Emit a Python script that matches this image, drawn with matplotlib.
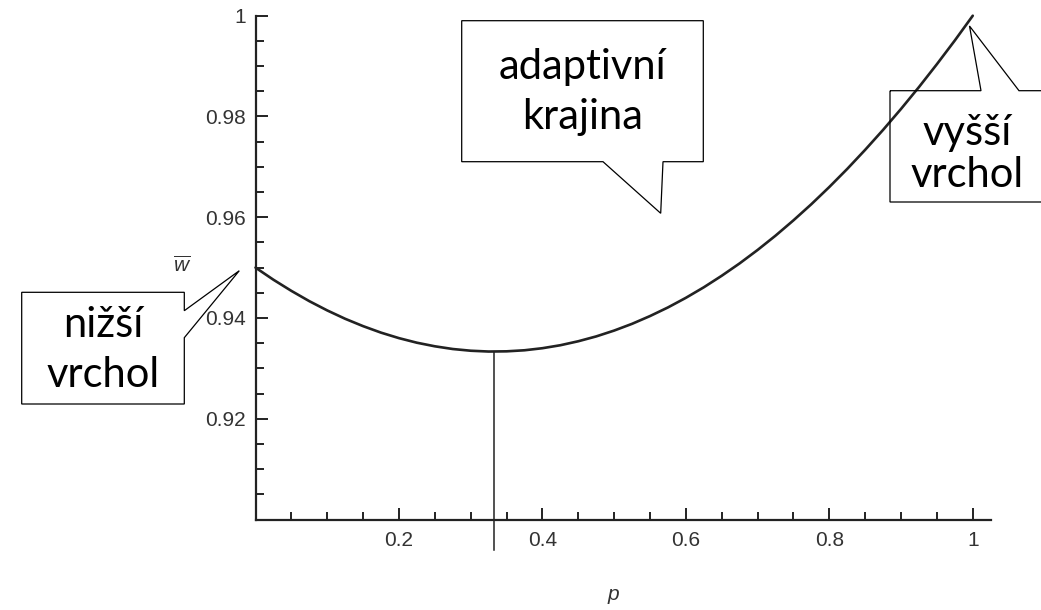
import matplotlib
matplotlib.use('Agg')
import matplotlib.pyplot as plt
from matplotlib.patches import Polygon

W, H = 1041, 610

# mean fitness w-bar, p from 0 to 1
P_VALUES = [0.0, 0.025, 0.05, 0.075, 0.1, 0.125, 0.15, 0.175, 0.2, 0.225,
            0.25, 0.275, 0.3, 0.325, 0.35, 0.375, 0.4, 0.425, 0.45, 0.475,
            0.5, 0.525, 0.55, 0.575, 0.6, 0.625, 0.65, 0.675, 0.7, 0.725,
            0.75, 0.775, 0.8, 0.825, 0.85, 0.875, 0.9, 0.925, 0.95, 0.975, 1.0]
W_BAR = [0.95, 0.94759, 0.94538, 0.94334, 0.9415, 0.93984, 0.93838, 0.93709,
         0.936, 0.93509, 0.93438, 0.93384, 0.9335, 0.93334, 0.93338, 0.93359,
         0.934, 0.93459, 0.93538, 0.93634, 0.9375, 0.93884, 0.94038, 0.94209,
         0.944, 0.94609, 0.94838, 0.95084, 0.9535, 0.95634, 0.95938, 0.96259,
         0.966, 0.96959, 0.97338, 0.97734, 0.9815, 0.98584, 0.99038, 0.99509, 1.0]

MIN_P = 0.333
MIN_W = 0.9333
DROP_BOTTOM = 0.894

X_MAJOR = [0.2, 0.4, 0.6, 0.8, 1.0]
X_LABELS = ['0.2', '0.4', '0.6', '0.8', '1']
X_MINOR = [0.05, 0.1, 0.15, 0.25, 0.3, 0.35, 0.45, 0.5, 0.55, 0.65, 0.7, 0.75, 0.85, 0.9, 0.95]
Y_MAJOR = [0.92, 0.94, 0.96, 0.98, 1.0]
Y_LABELS = ['0.92', '0.94', '0.96', '0.98', '1']
Y_MINOR = [0.905, 0.91, 0.915, 0.925, 0.93, 0.935, 0.945, 0.95, 0.955,
           0.965, 0.97, 0.975, 0.985, 0.99, 0.995]

CALLOUTS = [
    (['adaptivní', 'krajina'], [(582.5, 79), (582.5, 129.5)],
     [(461.7, 20.7), (703.3, 20.7), (703.3, 161.7), (663, 161.7),
      (660.7, 213.3), (603, 161.7), (461.7, 161.7)]),
    (['vyšší', 'vrchol'], [(967.5, 145), (967.5, 186.7)],
     [(890, 90.7), (981, 90.7), (969.5, 26), (1019, 90.7), (1046, 90.7),
      (1046, 202), (890, 202)]),
    (['nižší', 'vrchol'], [(103, 337.3), (103, 386.7)],
     [(21.7, 292.3), (184.3, 292.3), (184.3, 310.7), (239.3, 270.7),
      (184.3, 337.7), (184.3, 404), (21.7, 404)]),
]

plt.rcParams['font.family'] = ['Liberation Sans', 'DejaVu Sans']
plt.rcParams['mathtext.fontset'] = 'custom'
plt.rcParams['mathtext.it'] = 'Liberation Sans:italic'
plt.rcParams['mathtext.rm'] = 'Liberation Sans'


def fig_xy(x, y):
    return (x / W, 1 - y / H)


fig = plt.figure(figsize=(W / 100, H / 100), dpi=100)
ax = fig.add_axes([255.5 / W, 1 - 519.5 / H, 735.2 / W, 503.8 / H])

ax.plot(P_VALUES, W_BAR, color='#222222', lw=1.9, solid_capstyle='round', clip_on=False)
ax.plot([MIN_P, MIN_P], [DROP_BOTTOM, MIN_W], color='#222222', lw=1.1, clip_on=False)

ax.set_xlim(0, 1.025)
ax.set_ylim(0.90, 1.0)
for side in ('top', 'right'):
    ax.spines[side].set_visible(False)
for side in ('left', 'bottom'):
    ax.spines[side].set_color('#222222')
    ax.spines[side].set_linewidth(1.6)

ax.set_xticks(X_MAJOR)
ax.set_xticklabels(X_LABELS)
ax.set_xticks(X_MINOR, minor=True)
ax.set_yticks(Y_MAJOR)
ax.set_yticklabels(Y_LABELS)
ax.set_yticks(Y_MINOR, minor=True)
ax.tick_params(which='both', direction='in', color='#222222', width=1.4,
               labelsize=15, labelcolor='#333333')
ax.tick_params(which='major', length=8.5)
ax.tick_params(which='minor', length=5.8)
ax.tick_params(axis='x', which='major', pad=8)
ax.tick_params(axis='y', which='major', pad=7)

fig.text(*fig_xy(613, 594), 'p', style='italic', fontsize=15, color='#333333',
         ha='center', va='center')
fig.text(*fig_xy(182, 266), r'$\overline{w}$', fontsize=15, color='#333333',
         ha='center', va='center')

for lines, spots, outline in CALLOUTS:
    poly = Polygon([fig_xy(x, y) for x, y in outline], closed=True, fill=False,
                   ec='black', lw=0.9, transform=fig.transFigure)
    fig.add_artist(poly)
    for word, (x, y) in zip(lines, spots):
        fig.text(*fig_xy(x, y), word, family=['Lato', 'DejaVu Sans'], fontsize=30,
                 color='black', ha='center', va='baseline')

fig.savefig('out.png', dpi=100)
